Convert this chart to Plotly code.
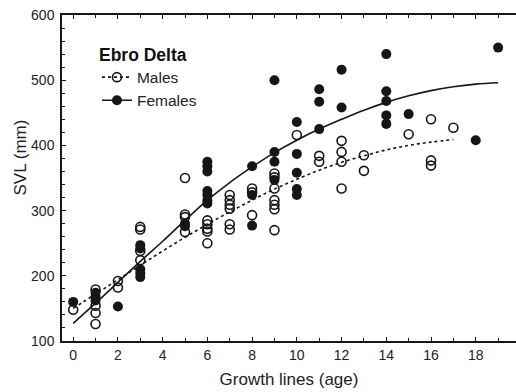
import plotly.graph_objects as go

# Observed points (age in growth lines, SVL in mm)
male_age = [0, 1, 1, 1, 1, 2, 2, 3, 3, 3, 3, 5, 5, 5, 5, 6, 6, 6, 6, 6,
            7, 7, 7, 7, 7, 7, 8, 8, 8, 9, 9, 9, 9, 9, 9, 9, 10, 11, 11,
            12, 12, 12, 12, 13, 13, 15, 16, 16, 16, 17]
male_svl = [148, 179, 154, 143, 126, 192, 182, 275, 271, 238, 224, 350, 294, 290, 267, 285, 279, 272, 268, 250,
            324, 316, 309, 303, 279, 271, 334, 328, 293, 357, 351, 334, 316, 309, 302, 270, 416, 384, 375,
            407, 390, 375, 334, 385, 361, 417, 440, 377, 369, 427]

female_age = [0, 1, 1, 1, 2, 3, 3, 3, 3, 3, 5, 5, 6, 6, 6, 6, 6, 6, 6,
              8, 8, 8, 9, 9, 9, 9, 10, 10, 10, 10, 10, 11, 11, 11, 12, 12,
              14, 14, 14, 14, 14, 15, 18, 19]
female_svl = [160, 174, 168, 162, 153, 247, 242, 210, 204, 198, 280, 276, 375, 368, 360, 330, 324, 316, 311,
              368, 324, 277, 500, 390, 375, 347, 436, 387, 358, 333, 324, 486, 467, 425, 516, 458,
              540, 483, 468, 446, 433, 448, 408, 550]

# Fitted growth curves
male_fit_age = [0, 1, 2, 3, 4, 5, 6, 7, 8, 9, 10, 11, 12, 13, 14, 15, 16, 17]
male_fit_svl = [150, 172, 194, 216, 238, 259, 279, 298, 316, 333, 348, 362, 374, 384, 393, 400, 405, 409]
female_fit_age = [0, 1, 2, 3, 4, 5, 6, 7, 8, 9, 10, 11, 12, 13, 14, 15, 16, 17, 18, 19]
female_fit_svl = [127, 158, 190, 222, 253, 285, 316, 343, 367, 389, 408, 425, 440, 454, 466, 476, 484, 490, 494, 496]

x_ticks = [0, 2, 4, 6, 8, 10, 12, 14, 16, 18]
y_ticks = [100, 200, 300, 400, 500, 600]

INK = "#161616"
FONT = "Liberation Sans, Arial, sans-serif"

fig = go.Figure()

fig.add_trace(go.Scatter(x=male_fit_age, y=male_fit_svl, mode="lines", line=dict(color=INK, width=1.6, dash="dot", shape="spline"),
                         showlegend=False, hoverinfo="skip"))
fig.add_trace(go.Scatter(x=female_fit_age, y=female_fit_svl, mode="lines", line=dict(color=INK, width=1.6, shape="spline"),
                         showlegend=False, hoverinfo="skip"))
fig.add_trace(go.Scatter(x=male_age, y=male_svl, mode="markers", name="Males", showlegend=False,
                         marker=dict(symbol="circle-open", size=9, color=INK, line=dict(width=1.6, color=INK))))
fig.add_trace(go.Scatter(x=female_age, y=female_svl, mode="markers", name="Females", showlegend=False,
                         marker=dict(symbol="circle", size=10, color=INK, line=dict(width=0))))

# legend entries
fig.add_trace(go.Scatter(x=[None], y=[None], mode="lines+markers", name="Males",
                         line=dict(color=INK, width=1.6, dash="dot"),
                         marker=dict(symbol="circle-open", size=9, color=INK, line=dict(width=1.6, color=INK))))
fig.add_trace(go.Scatter(x=[None], y=[None], mode="lines+markers", name="Females",
                         line=dict(color=INK, width=1.6),
                         marker=dict(symbol="circle", size=10, color=INK)))

axis_common = dict(showline=True, linecolor=INK, linewidth=1.5, ticks="inside", tickcolor=INK,
                   ticklen=4, tickwidth=1, showgrid=False, zeroline=False,
                   tickfont=dict(family=FONT, size=14, color="#222"))

fig.update_xaxes(range=[-0.5, 19.8], tickvals=x_ticks, mirror="ticks",
                 minor=dict(ticks="inside", dtick=1, ticklen=3, tickcolor=INK, tickwidth=1),
                 title=dict(text="Growth lines (age)", font=dict(family=FONT, size=17, color="#222"), standoff=12),
                 **axis_common)
fig.update_yaxes(range=[100, 600], tickvals=y_ticks, mirror=False,
                 minor=dict(ticks="inside", dtick=20, ticklen=3, tickcolor=INK, tickwidth=1),
                 ticklabelstandoff=3,
                 **axis_common)

fig.add_annotation(text="SVL (mm)", textangle=-90, xref="paper", yref="paper", x=-0.0925, y=0.563,
                   xanchor="center", yanchor="middle", showarrow=False,
                   font=dict(family=FONT, size=17, color="#222"))

fig.update_layout(
    width=516, height=392,
    margin=dict(l=62, r=0, t=15, b=51),
    paper_bgcolor="white", plot_bgcolor="white",
    legend=dict(x=0.077, y=0.93, xanchor="left", yanchor="top", bgcolor="rgba(0,0,0,0)",
                title=dict(text="<b>Ebro Delta</b>", font=dict(family=FONT, size=17.5, color="#111")),
                font=dict(family=FONT, size=15.5, color="#222"), tracegroupgap=0),
)

fig.write_html("out.html")
